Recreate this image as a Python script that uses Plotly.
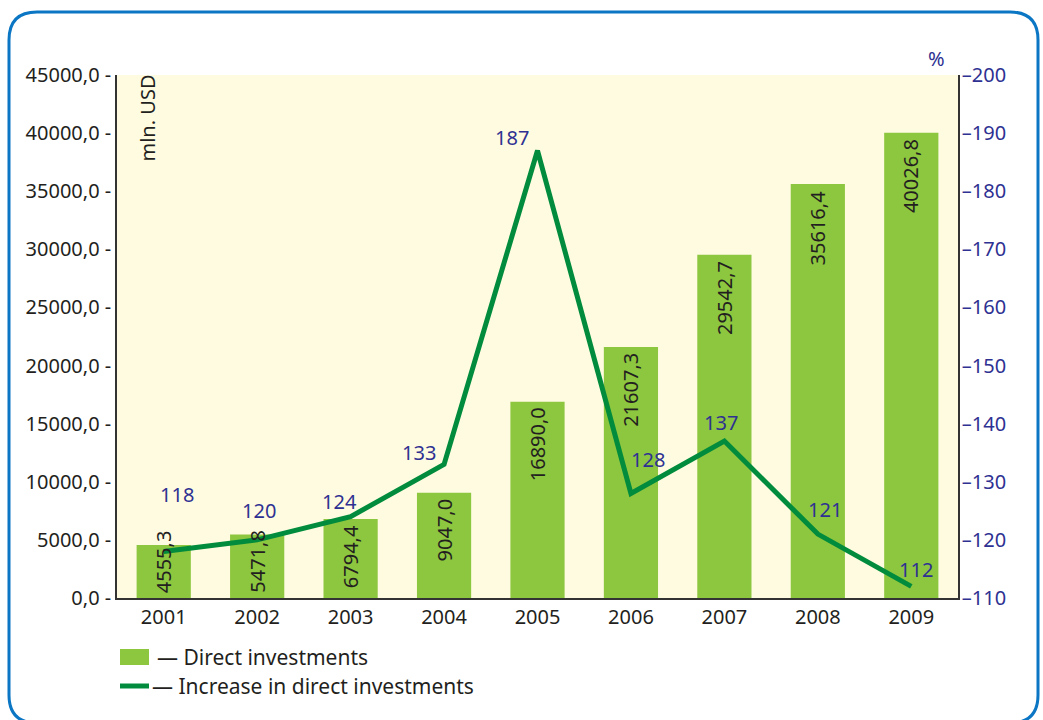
import plotly.graph_objects as go

# данные
years = ["2001", "2002", "2003", "2004", "2005", "2006", "2007", "2008", "2009"]
direct_inv = [4555.3, 5471.8, 6794.4, 9047.0, 16890.0, 21607.3, 29542.7, 35616.4, 40026.8]
increase_pct = [118, 120, 124, 133, 187, 128, 137, 121, 112]
left_ticks = [0, 5000, 10000, 15000, 20000, 25000, 30000, 35000, 40000, 45000]
right_ticks = [110, 120, 130, 140, 150, 160, 170, 180, 190, 200]

# style
FONT = "Noto Sans"
FS = 20
BAR = "#8DC63F"
LINE = "#008C3C"
BLUE = "#2E3192"
INK = "#231F20"
FRAME = "#0B76C4"

W, H = 1043, 720
M = dict(l=117, r=85, t=75, b=122)
PW = W - M["l"] - M["r"]
PH = H - M["t"] - M["b"]


def px_x(px):
    return (px - M["l"]) / PW


def px_y(py):
    return (H - M["b"] - py) / PH


def comma(v):
    return f"{v:.1f}".replace(".", ",")


# сдвиги подписей линии (px, относительно точки)
line_lbl_off = [(13, -57), (2, -29), (-11, -15), (-25, -12), (-26, -13),
                (17, -34), (-3, -19), (7, -25), (5, -17)]

fig = go.Figure()
fig.add_trace(go.Bar(x=years, y=direct_inv, marker=dict(color=BAR, line_width=0),
                     width=0.58, yaxis="y", hoverinfo="x+y"))
fig.add_trace(go.Scatter(x=years, y=increase_pct, yaxis="y2", mode="lines",
                         line=dict(color=LINE, width=5), hoverinfo="x+y"))

# подписи столбцов (вертикальные); x на категориальной оси — по индексу
for i, v in enumerate(direct_inv):
    if v > 6000:
        fig.add_annotation(x=i, y=v, yref="y", text=comma(v), textangle=-90,
                           showarrow=False, xanchor="center", yanchor="top", yshift=-4,
                           font=dict(family=FONT, size=FS, color=INK))
    else:
        fig.add_annotation(x=i, y=0, yref="y", text=comma(v), textangle=-90,
                           showarrow=False, xanchor="center", yanchor="bottom", yshift=3,
                           font=dict(family=FONT, size=FS, color=INK))

# подписи линии
for i, (v, (dx, dy)) in enumerate(zip(increase_pct, line_lbl_off)):
    fig.add_annotation(x=i, y=v, yref="y2", text=str(v), showarrow=False,
                       xshift=dx, yshift=-dy, xanchor="center", yanchor="middle",
                       font=dict(family=FONT, size=FS, color=BLUE))

fig.add_annotation(xref="paper", yref="paper", x=px_x(147), y=1.0, text="mln. USD",
                   textangle=-90, showarrow=False, xanchor="center", yanchor="top", yshift=2,
                   font=dict(family=FONT, size=FS, color=INK))
fig.add_annotation(xref="paper", yref="paper", x=px_x(936), y=px_y(58), text="%",
                   showarrow=False, xanchor="center", yanchor="middle",
                   font=dict(family=FONT, size=FS, color=BLUE))

# легенда вручную
fig.add_shape(type="rect", xref="paper", yref="paper", x0=px_x(120), x1=px_x(149),
              y0=px_y(665), y1=px_y(649), fillcolor=BAR, line_width=0)
fig.add_shape(type="line", xref="paper", yref="paper", x0=px_x(120), x1=px_x(149),
              y0=px_y(686), y1=px_y(686), line=dict(color=LINE, width=5))
fig.add_annotation(xref="paper", yref="paper", x=px_x(155), y=px_y(657), xanchor="left",
                   yanchor="middle", text="— Direct investments", showarrow=False,
                   font=dict(family=FONT, size=21, color=INK))
fig.add_annotation(xref="paper", yref="paper", x=px_x(150), y=px_y(686), xanchor="left",
                   yanchor="middle", text="— Increase in direct investments", showarrow=False,
                   font=dict(family=FONT, size=21, color=INK))

# рамка со скруглёнными углами
x0, x1, y0, y1, r = 9, 1038, 12, 723, 28
path = (f"M {px_x(x0)},{px_y(y0 + r)} Q {px_x(x0)},{px_y(y0)} {px_x(x0 + r)},{px_y(y0)} "
        f"L {px_x(x1 - r)},{px_y(y0)} Q {px_x(x1)},{px_y(y0)} {px_x(x1)},{px_y(y0 + r)} "
        f"L {px_x(x1)},{px_y(y1 - r)} Q {px_x(x1)},{px_y(y1)} {px_x(x1 - r)},{px_y(y1)} "
        f"L {px_x(x0 + r)},{px_y(y1)} Q {px_x(x0)},{px_y(y1)} {px_x(x0)},{px_y(y1 - r)} Z")
fig.add_shape(type="path", xref="paper", yref="paper", path=path,
              line=dict(color=FRAME, width=3), layer="below")

fig.update_layout(
    width=W, height=H, margin=M, showlegend=False,
    paper_bgcolor="white", plot_bgcolor="#FEFBE0",
    font=dict(family=FONT, size=FS, color=INK),
    xaxis=dict(type="category", range=[-0.5, 8.5], showline=True, linecolor="#333333",
               linewidth=1.5, ticks="", showgrid=False,
               tickfont=dict(family=FONT, size=FS, color=INK)),
    yaxis=dict(range=[0, 45000], tickvals=left_ticks,
               ticktext=[comma(v) + " -" for v in left_ticks],
               showline=True, linecolor="#333333", linewidth=1.5, ticks="",
               showgrid=False, zeroline=False,
               tickfont=dict(family=FONT, size=FS, color=INK)),
    yaxis2=dict(range=[110, 200], overlaying="y", side="right", tickvals=right_ticks,
                ticktext=["–" + str(v) for v in right_ticks],
                showline=True, linecolor="#333333", linewidth=1.5, ticks="",
                showgrid=False, zeroline=False, ticklabelstandoff=-2,
                tickfont=dict(family=FONT, size=FS, color=BLUE)),
)

# убрать отступ body, чтобы фигура начиналась в (0,0)
fig.write_html("out.html", config={"displayModeBar": False},
               post_script="document.body.style.margin='0';")
